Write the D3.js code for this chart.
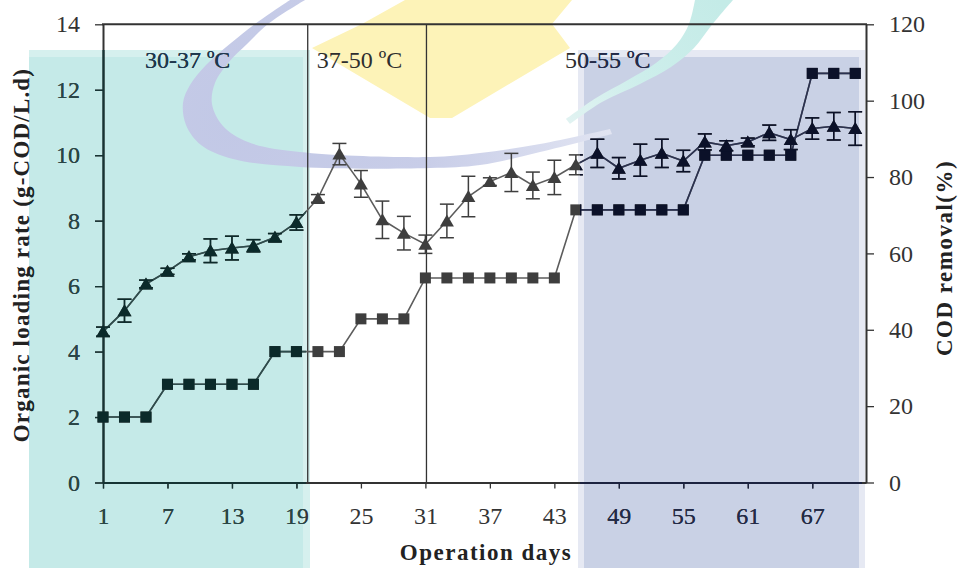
<!DOCTYPE html>
<html>
<head>
<meta charset="utf-8">
<script src="https://cdn.jsdelivr.net/npm/d3@7"></script>
<style>
  html, body { margin: 0; padding: 0; background: #fff; }
  svg { display: block; }
</style>
</head>
<body>
<svg id="chart" width="958" height="568"></svg>
<script>
// Operation days (sampled every second day)
const days = [1, 3, 5, 7, 9, 11, 13, 15, 17, 19, 21, 23, 25, 27, 29, 31, 33, 35,
              37, 39, 41, 43, 45, 47, 49, 51, 53, 55, 57, 59, 61, 63, 65, 67, 69, 71];
// Organic loading rate, g-COD/L.d (left axis)
const olr = [2, 2, 2, 3, 3, 3, 3, 3, 4, 4, 4, 4, 5, 5, 5, 6.25, 6.25, 6.25,
             6.25, 6.25, 6.25, 6.25, 8.33, 8.33, 8.33, 8.33, 8.33, 8.33, 10, 10, 10, 10, 10, 12.5, 12.5, 12.5];
// COD removal, % (right axis) and its standard deviation
const codRemoval = [39.5, 45, 52, 55.3, 59.1, 60.7, 61.4, 62.0, 64.2, 68.1, 74.4, 86.0, 78.2, 68.8, 65.3, 62.4, 68.5, 74.9,
                    78.8, 81.2, 77.8, 79.9, 83.2, 86.2, 82.3, 84.4, 86.2, 84.2, 89.2, 88.2, 89.2, 91.6, 89.8, 92.7, 93.3, 92.7];
const codError = [1.2, 3, 1, 0.8, 0.8, 3.1, 3.1, 1.6, 1, 2, 1, 2.8, 3.5, 4.9, 4.4, 2.4, 4.4, 5.3,
                  1, 5, 3.5, 4.5, 2.6, 3.7, 2.8, 4.2, 3.7, 2.8, 2.1, 1.3, 1, 2, 2.6, 2.8, 3.6, 4.4];

// Temperature phases: boundaries (day) and labels with the day where each label starts
const phaseBounds = [20.05, 31.1];
const phaseLabels = ["30-37 \u00BAC", "37-50 \u00BAC", "50-55 \u00BAC"];
const phaseLabelDay = [4.9, 20.9, 44.0];

// Tick values
const xTicks = [1, 7, 13, 19, 25, 31, 37, 43, 49, 55, 61, 67];
const yLeftTicks = [0, 2, 4, 6, 8, 10, 12, 14];
const yRightTicks = [0, 20, 40, 60, 80, 100, 120];

const svg = d3.select("#chart");
const plot = { left: 103, right: 866, top: 24.3, bottom: 482.5 };

const x = d3.scaleLinear().domain([1, 72]).range([plot.left, plot.right]);
const yL = d3.scaleLinear().domain([0, 14]).range([plot.bottom, plot.top]);
const yR = d3.scaleLinear().domain([0, 120]).range([plot.bottom, plot.top]);

const serif = "'Liberation Serif', 'Times New Roman', serif";

const defs = svg.append("defs");

// ---------- background artwork ----------
const bg = svg.append("g");
bg.append("rect").attr("x", 0).attr("y", 0).attr("width", 958).attr("height", 568).attr("fill", "#fff");
// teal panel
bg.append("rect").attr("x", 29).attr("y", 50).attr("width", 281).attr("height", 518).attr("fill", "#d6f0ee");
bg.append("rect").attr("x", 29).attr("y", 57).attr("width", 274).attr("height", 511).attr("fill", "#c5eae8");
// blue-grey panel
bg.append("rect").attr("x", 578).attr("y", 50).attr("width", 287).attr("height", 518).attr("fill", "#e6e9f3");
bg.append("rect").attr("x", 584).attr("y", 57).attr("width", 275).attr("height", 511).attr("fill", "#c9d1e5");

const smooth = d3.line().curve(d3.curveCatmullRom.alpha(0.5));
// yellow kite
bg.append("path")
  .attr("d", d3.line()([[405, 0], [572, 0], [552, 24], [570, 48], [452, 118], [430, 118], [312, 48], [362, 24]]) + "Z")
  .attr("fill", "#fdf3b8");

// teal swoosh, fading towards its lower end
const swGrad = defs.append("linearGradient").attr("id", "sw-grad")
  .attr("gradientUnits", "userSpaceOnUse")
  .attr("x1", 720).attr("y1", 0).attr("x2", 565).attr("y2", 125);
swGrad.append("stop").attr("offset", 0).attr("stop-color", "#c4ebe7");
swGrad.append("stop").attr("offset", 0.55).attr("stop-color", "#cdeeeb");
swGrad.append("stop").attr("offset", 1).attr("stop-color", "#e2f3f2");
const swOuter = [[733, 0], [711, 26], [694, 48], [671, 67], [640, 84], [602, 102], [570, 124]];
const swInner = [[566, 119], [596, 98], [628, 80], [656, 63], [677, 44], [689, 24], [695, 0]];
bg.append("path").attr("d", smooth(swOuter) + "L" + smooth(swInner).slice(1) + "Z").attr("fill", "url(#sw-grad)");

// blue crescent, strongest on its left bend
const arcGrad = defs.append("radialGradient").attr("id", "arc-grad")
  .attr("gradientUnits", "userSpaceOnUse")
  .attr("cx", 230).attr("cy", 120).attr("r", 400);
arcGrad.append("stop").attr("offset", 0).attr("stop-color", "#c2c8e6");
arcGrad.append("stop").attr("offset", 0.5).attr("stop-color", "#c8cde8");
arcGrad.append("stop").attr("offset", 1).attr("stop-color", "#e4e7f3");
const arcOuter = [[290, 0], [255, 24], [231, 43], [206, 65], [190, 85], [183, 103], [186, 125], [201, 145],
                  [233, 159], [300, 167], [430, 168], [480, 165], [540, 152], [612, 134]];
const arcInner = [[610, 129], [540, 144], [480, 153], [430, 157], [300, 152], [248, 142], [223, 126],
                  [212, 104], [215, 83], [229, 62], [247, 44], [268, 24], [305, 0]];
bg.append("path").attr("d", smooth(arcOuter) + "L" + smooth(arcInner).slice(1) + "Z").attr("fill", "url(#arc-grad)");

// ---------- chart ----------
const inks = {
  grey: { mark: "#3e3e3e", line: "#5c5c5c", axis: "#333333", text: "#333333", title: "#222222", label: "#2e2e2e" },
  teal: { mark: "#0b2a2a", line: "#2d4c4c", axis: "#163434", text: "#284646", title: "#1a2a2a", label: "#1c3850" },
  navy: { mark: "#0b1129", line: "#2a3150", axis: "#1c2340", text: "#222a48", title: "#1a1f33", label: "#222a4c" }
};

defs.append("clipPath").attr("id", "clip-teal")
  .append("rect").attr("x", 29).attr("y", 50).attr("width", 277).attr("height", 518);
defs.append("clipPath").attr("id", "clip-navy")
  .append("rect").attr("x", 580).attr("y", 50).attr("width", 282).attr("height", 518);

const triangle = "M0,-6.5L7,5.5L-7,5.5Z";

function drawChart(g, ink) {
  // axes
  const ax = d3.axisBottom(x).tickValues(xTicks).tickFormat(d3.format("d"))
    .tickSize(6).tickSizeOuter(0).tickPadding(18.5);
  const gx = g.append("g").attr("transform", `translate(0,${plot.bottom})`).call(ax);

  const ayl = d3.axisLeft(yL).tickValues(yLeftTicks).tickFormat(d3.format("d"))
    .tickSize(8).tickSizeOuter(0).tickPadding(15);
  const gyl = g.append("g").attr("transform", `translate(${plot.left},0)`).call(ayl);

  const ayr = d3.axisRight(yR).tickValues(yRightTicks).tickFormat(d3.format("d"))
    .tickSize(8).tickSizeOuter(0).tickPadding(15);
  const gyr = g.append("g").attr("transform", `translate(${plot.right},0)`).call(ayr);

  [gx, gyl, gyr].forEach(a => {
    a.attr("font-family", serif).attr("font-size", 24);
    a.select(".domain").attr("stroke", ink.axis).attr("stroke-width", 2);
    a.selectAll(".tick line").attr("stroke", ink.axis).attr("stroke-width", 1.3);
    a.selectAll(".tick text").attr("fill", ink.text);
  });

  // top border
  g.append("line").attr("x1", plot.left - 1).attr("x2", plot.right + 1)
    .attr("y1", plot.top).attr("y2", plot.top)
    .attr("stroke", ink.axis).attr("stroke-width", 2);

  // phase boundaries
  g.selectAll(".phase").data(phaseBounds).join("line")
    .attr("x1", d => x(d)).attr("x2", d => x(d))
    .attr("y1", plot.top).attr("y2", plot.bottom)
    .attr("stroke", ink.axis).attr("stroke-width", 1.3);

  g.selectAll(".phase-label").data(phaseLabels).join("text")
    .attr("x", (d, i) => x(phaseLabelDay[i])).attr("y", 68)
    .attr("font-family", serif).attr("font-size", 24).attr("fill", ink.label)
    .text(d => d);

  // organic loading rate
  const pts = days.map((d, i) => ({ d, v: olr[i], c: codRemoval[i], e: codError[i] }));
  g.append("path").datum(pts)
    .attr("d", d3.line().x(p => x(p.d)).y(p => yL(p.v)))
    .attr("fill", "none").attr("stroke", ink.line).attr("stroke-width", 1.6);
  g.selectAll(".sq").data(pts).join("rect")
    .attr("x", p => x(p.d) - 5.5).attr("y", p => yL(p.v) - 5.5)
    .attr("width", 11).attr("height", 11).attr("fill", ink.mark);

  // COD removal
  g.append("path").datum(pts)
    .attr("d", d3.line().x(p => x(p.d)).y(p => yR(p.c)))
    .attr("fill", "none").attr("stroke", ink.line).attr("stroke-width", 1.6);
  const eb = g.selectAll(".eb").data(pts).join("g");
  eb.append("line")
    .attr("x1", p => x(p.d)).attr("x2", p => x(p.d))
    .attr("y1", p => yR(p.c - p.e)).attr("y2", p => yR(p.c + p.e));
  eb.append("line")
    .attr("x1", p => x(p.d) - 7).attr("x2", p => x(p.d) + 7)
    .attr("y1", p => yR(p.c - p.e)).attr("y2", p => yR(p.c - p.e));
  eb.append("line")
    .attr("x1", p => x(p.d) - 7).attr("x2", p => x(p.d) + 7)
    .attr("y1", p => yR(p.c + p.e)).attr("y2", p => yR(p.c + p.e));
  eb.selectAll("line").attr("stroke", ink.mark).attr("stroke-width", 1.5);
  g.selectAll(".tri").data(pts).join("path")
    .attr("d", triangle)
    .attr("transform", p => `translate(${x(p.d)},${yR(p.c)})`)
    .attr("fill", ink.mark);

  // axis titles
  g.append("text")
    .attr("transform", "translate(29,255) rotate(-90)")
    .attr("text-anchor", "middle").attr("font-family", serif).attr("font-weight", "bold")
    .attr("font-size", 23).attr("letter-spacing", 1.2).attr("fill", ink.title)
    .text("Organic loading rate (g-COD/L.d)");
  g.append("text")
    .attr("transform", "translate(952,258) rotate(-90)")
    .attr("text-anchor", "middle").attr("font-family", serif).attr("font-weight", "bold")
    .attr("font-size", 23).attr("letter-spacing", 1.5).attr("fill", ink.title)
    .text("COD removal(%)");
  g.append("text")
    .attr("x", 486).attr("y", 560)
    .attr("text-anchor", "middle").attr("font-family", serif).attr("font-weight", "bold")
    .attr("font-size", 23).attr("letter-spacing", 1.5).attr("fill", ink.title)
    .text("Operation days");
}

drawChart(svg.append("g"), inks.grey);
drawChart(svg.append("g").attr("clip-path", "url(#clip-teal)"), inks.teal);
drawChart(svg.append("g").attr("clip-path", "url(#clip-navy)"), inks.navy);
</script>
</body>
</html>
